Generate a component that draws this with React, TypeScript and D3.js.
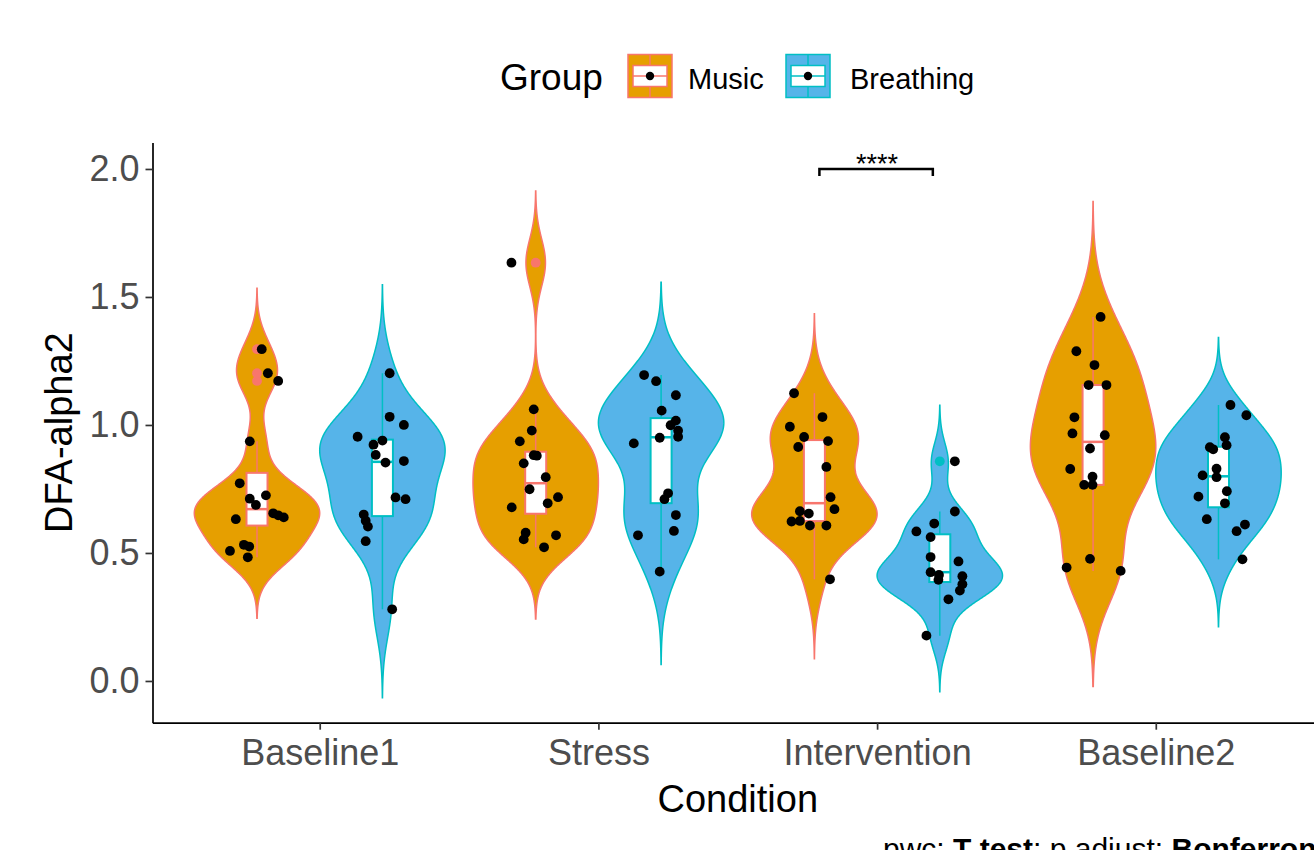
import React, { useEffect, useRef } from "react";
import * as d3 from "d3";

// each point: [DFA-alpha2 value, horizontal jitter in category-step units]
type Pt = [number, number];

const conditions = ["Baseline1", "Stress", "Intervention", "Baseline2"];
const groups = ["Music", "Breathing"];
const fillColors = ["#E69F00", "#56B4E9"];
const lineColors = ["#F8766D", "#00BFC4"];
const yTicks = [0, 0.5, 1, 1.5, 2];

const baseline1Music: Pt[] = [
  [1.296, 0.017], [1.202, 0.039], [1.172, 0.076], [0.936, -0.026], [0.772, -0.062], [0.725, 0.032],
  [0.712, -0.026], [0.6875, -0.004], [0.655, 0.058], [0.647, 0.076], [0.639, 0.096], [0.632, -0.076],
  [0.532, -0.047], [0.525, -0.028], [0.508, -0.097], [0.483, -0.033],
];
const baseline1Breathing: Pt[] = [
  [1.202, 0.026], [1.032, 0.026], [1.0, 0.077], [0.954, -0.089], [0.939, 0.0], [0.923, -0.032],
  [0.883, -0.024], [0.853, 0.011], [0.859, 0.077], [0.717, 0.047], [0.71, 0.083], [0.65, -0.067],
  [0.626, -0.06], [0.603, -0.052], [0.546, -0.06], [0.28, 0.035],
];
const stressMusic: Pt[] = [
  [1.634, -0.087], [1.061, -0.007], [0.978, -0.014], [0.936, -0.057], [0.882, -0.007], [0.88, 0.004],
  [0.85, -0.043], [0.796, 0.036], [0.749, -0.022], [0.718, 0.08], [0.694, 0.043], [0.678, -0.086],
  [0.579, -0.036], [0.569, 0.073], [0.553, -0.043], [0.522, 0.03],
];
const stressBreathing: Pt[] = [
  [1.195, -0.061], [1.171, -0.018], [1.116, 0.053], [1.056, 0.002], [1.017, 0.053], [0.999, 0.034],
  [0.978, 0.061], [0.954, 0.061], [0.95, -0.005], [0.928, -0.098], [0.733, 0.025], [0.71, 0.012],
  [0.648, 0.053], [0.586, 0.046], [0.569, -0.083], [0.427, -0.005],
];
const interventionMusic: Pt[] = [
  [1.124, -0.073], [1.031, 0.029], [0.993, -0.088], [0.953, -0.037], [0.937, 0.049], [0.914, -0.058],
  [0.836, 0.043], [0.718, 0.058], [0.671, 0.072], [0.663, -0.052], [0.654, -0.02], [0.623, -0.082],
  [0.625, -0.052], [0.607, -0.016], [0.607, 0.043], [0.397, 0.056],
];
const interventionBreathing: Pt[] = [
  [0.858, 0.054], [0.662, 0.054], [0.615, -0.02], [0.584, -0.084], [0.562, -0.033], [0.484, -0.033],
  [0.467, 0.067], [0.425, -0.033], [0.414, -0.003], [0.409, 0.081], [0.395, -0.005], [0.378, 0.081],
  [0.353, 0.072], [0.319, 0.031], [0.177, -0.048],
];
const baseline2Music: Pt[] = [
  [1.422, 0.027], [1.288, -0.06], [1.234, 0.005], [1.156, -0.016], [1.156, 0.048], [1.03, -0.067],
  [0.967, -0.074], [0.96, 0.042], [0.908, -0.011], [0.828, -0.082], [0.798, -0.002], [0.766, -0.032],
  [0.766, -0.002], [0.477, -0.011], [0.443, -0.095], [0.43, 0.099],
];
const baseline2Breathing: Pt[] = [
  [1.078, 0.043], [1.038, 0.1], [0.952, 0.023], [0.921, 0.029], [0.913, -0.031], [0.905, -0.019],
  [0.829, -0.007], [0.803, -0.057], [0.796, -0.007], [0.741, 0.03], [0.72, -0.072], [0.694, 0.023],
  [0.632, -0.042], [0.611, 0.095], [0.585, 0.065], [0.475, 0.086],
];

const comparisons = [{ condition: "Intervention", label: "****", y: 2.0 }];

const series = [
  { condition: "Baseline1", group: 0, points: baseline1Music },
  { condition: "Baseline1", group: 1, points: baseline1Breathing },
  { condition: "Stress", group: 0, points: stressMusic },
  { condition: "Stress", group: 1, points: stressBreathing },
  { condition: "Intervention", group: 0, points: interventionMusic },
  { condition: "Intervention", group: 1, points: interventionBreathing },
  { condition: "Baseline2", group: 0, points: baseline2Music },
  { condition: "Baseline2", group: 1, points: baseline2Breathing },
];

const FONT = "'Liberation Sans', Arial, sans-serif";

function density(values: number[]): [number, number][] {
  const n = values.length;
  const sorted = values.slice().sort(d3.ascending);
  const sd = d3.deviation(values)!;
  const iqr = d3.quantileSorted(sorted, 0.75)! - d3.quantileSorted(sorted, 0.25)!;
  const bw = 0.9 * Math.min(sd, iqr / 1.34) * Math.pow(n, -0.2);
  const lo = sorted[0] - 3 * bw, hi = sorted[n - 1] + 3 * bw;
  return d3.range(512).map((i) => {
    const g = lo + ((hi - lo) * i) / 511;
    const k = d3.mean(values, (v) => Math.exp(-0.5 * ((g - v) / bw) ** 2))!;
    return [g, k / (bw * Math.sqrt(2 * Math.PI))];
  });
}

function boxStats(values: number[]) {
  const s = values.slice().sort(d3.ascending);
  const q1 = d3.quantileSorted(s, 0.25)!, med = d3.quantileSorted(s, 0.5)!, q3 = d3.quantileSorted(s, 0.75)!;
  const iqr = q3 - q1;
  const inside = s.filter((v) => v >= q1 - 1.5 * iqr && v <= q3 + 1.5 * iqr);
  return {
    q1, med, q3,
    lo: d3.min(inside)!, hi: d3.max(inside)!,
    outliers: s.filter((v) => v < q1 - 1.5 * iqr || v > q3 + 1.5 * iqr),
  };
}

export default function App() {
  const svgRef = useRef<SVGSVGElement>(null);

  useEffect(() => {
    const svg = d3.select(svgRef.current);
    svg.selectAll("*").remove();

    const left = 152.5, right = 1323, top = 142.6, bottom = 722.7;
    const x = d3.scalePoint<string>().domain(conditions).range([left, right]).padding(0.6);
    const y = d3.scaleLinear().domain([-0.163, 2.103]).range([bottom, top]);
    const step = x.step();
    const dodge = 0.225 * step;
    const halfViolin = 0.225 * step;
    const halfBox = 0.0377 * step;
    const centre = (cond: string, g: number) => x(cond)! + (g === 0 ? -dodge : dodge);

    // violins
    const gV = svg.append("g");
    series.forEach((s) => {
      const d = density(s.points.map((p) => p[0]));
      const maxD = d3.max(d, (p) => p[1])!;
      const cx = centre(s.condition, s.group);
      const area = d3.area<[number, number]>()
        .y((p) => y(p[0]))
        .x0((p) => cx - (p[1] / maxD) * halfViolin)
        .x1((p) => cx + (p[1] / maxD) * halfViolin);
      gV.append("path")
        .attr("d", area(d))
        .attr("fill", fillColors[s.group])
        .attr("stroke", lineColors[s.group])
        .attr("stroke-width", 1.5);
    });

    // boxplots
    const gB = svg.append("g");
    series.forEach((s) => {
      const b = boxStats(s.points.map((p) => p[0]));
      const cx = centre(s.condition, s.group);
      const col = lineColors[s.group];
      gB.append("line").attr("x1", cx).attr("x2", cx).attr("y1", y(b.hi)).attr("y2", y(b.q3))
        .attr("stroke", col).attr("stroke-width", 1.5);
      gB.append("line").attr("x1", cx).attr("x2", cx).attr("y1", y(b.q1)).attr("y2", y(b.lo))
        .attr("stroke", col).attr("stroke-width", 1.5);
      gB.append("rect")
        .attr("x", cx - halfBox).attr("width", 2 * halfBox)
        .attr("y", y(b.q3)).attr("height", y(b.q1) - y(b.q3))
        .attr("fill", "#fff").attr("stroke", col).attr("stroke-width", 2);
      gB.append("line").attr("x1", cx - halfBox).attr("x2", cx + halfBox)
        .attr("y1", y(b.med)).attr("y2", y(b.med))
        .attr("stroke", col).attr("stroke-width", 2.5);
      gB.selectAll(null).data(b.outliers).enter().append("circle")
        .attr("cx", cx).attr("cy", (v) => y(v)).attr("r", 4.9).attr("fill", col);
    });

    // jittered points
    const gP = svg.append("g");
    series.forEach((s) => {
      const cx = centre(s.condition, s.group);
      gP.selectAll(null).data(s.points).enter().append("circle")
        .attr("cx", (p) => cx + p[1] * step)
        .attr("cy", (p) => y(p[0]))
        .attr("r", 4.9)
        .attr("fill", "#000");
    });

    // significance bracket
    comparisons.forEach((c) => {
      const x1 = x(c.condition)! - 0.207 * step, x2 = x(c.condition)! + 0.2 * step;
      const yy = y(c.y);
      svg.append("path")
        .attr("d", `M${x1},${yy + 7}V${yy}H${x2}V${yy + 7}`)
        .attr("fill", "none").attr("stroke", "#000").attr("stroke-width", 2.5);
      svg.append("text")
        .attr("x", x(c.condition)!).attr("y", yy + 4)
        .attr("text-anchor", "middle")
        .attr("font-family", FONT).attr("font-size", 27)
        .attr("fill", "#000")
        .text(c.label);
    });

    // axes
    const yAxis = svg.append("g").attr("transform", `translate(${left},0)`)
      .call(d3.axisLeft(y).tickValues(yTicks).tickFormat(d3.format(".1f")).tickSize(7).tickSizeOuter(0).tickPadding(6));
    const xAxis = svg.append("g").attr("transform", `translate(0,${bottom})`)
      .call(d3.axisBottom(x).tickSize(7).tickSizeOuter(0).tickPadding(10));
    [yAxis, xAxis].forEach((a) => {
      a.select(".domain").attr("stroke", "#000").attr("stroke-width", 1.7);
      a.selectAll(".tick line").attr("stroke", "#333").attr("stroke-width", 1.7);
      a.selectAll(".tick text").attr("fill", "#4D4D4D").attr("font-size", 36).attr("font-family", FONT);
    });

    // axis titles
    svg.append("text")
      .attr("x", (left + right) / 2).attr("y", 812)
      .attr("text-anchor", "middle").attr("font-family", FONT).attr("font-size", 38).attr("fill", "#000")
      .text("Condition");
    svg.append("text")
      .attr("transform", `translate(72,${(top + bottom) / 2}) rotate(-90)`)
      .attr("text-anchor", "middle").attr("font-family", FONT).attr("font-size", 38).attr("fill", "#000")
      .text("DFA-alpha2");

    // legend
    const lg = svg.append("g").attr("font-family", FONT);
    lg.append("text").attr("x", 500).attr("y", 90).attr("font-size", 37).attr("fill", "#000").text("Group");
    const keyX = [628, 786], labelX = [688, 850];
    groups.forEach((g, i) => {
      const kx = keyX[i], ky = 54.5, kw = 44, kh = 43;
      lg.append("rect").attr("x", kx).attr("y", ky).attr("width", kw).attr("height", kh)
        .attr("fill", fillColors[i]).attr("stroke", lineColors[i]).attr("stroke-width", 1.5);
      lg.append("line").attr("x1", kx + kw / 2).attr("x2", kx + kw / 2).attr("y1", ky).attr("y2", ky + kh)
        .attr("stroke", lineColors[i]).attr("stroke-width", 1.5);
      lg.append("rect").attr("x", kx + 5).attr("y", ky + 11).attr("width", kw - 10).attr("height", 21)
        .attr("fill", "#fff").attr("stroke", lineColors[i]).attr("stroke-width", 1.5);
      lg.append("line").attr("x1", kx + 5).attr("x2", kx + kw - 5).attr("y1", ky + 21.5).attr("y2", ky + 21.5)
        .attr("stroke", lineColors[i]).attr("stroke-width", 1.5);
      lg.append("circle").attr("cx", kx + kw / 2).attr("cy", ky + 21.5).attr("r", 4.2).attr("fill", "#000");
      lg.append("text").attr("x", labelX[i]).attr("y", 89).attr("font-size", 29).attr("fill", "#000").text(g);
    });

    // caption (cut off at the right/bottom edge, as in the original figure)
    const cap = svg.append("text").attr("x", 883).attr("y", 859)
      .attr("font-family", FONT).attr("font-size", 30).attr("fill", "#000");
    cap.append("tspan").text("pwc: ");
    cap.append("tspan").attr("font-weight", "bold").text("T test");
    cap.append("tspan").text("; p.adjust: ");
    cap.append("tspan").attr("font-weight", "bold").text("Bonferroni");
  }, []);

  return (
    <svg
      ref={svgRef}
      width={1314}
      height={850}
      style={{ position: "fixed", left: 0, top: 0, background: "#fff" }}
    />
  );
}
